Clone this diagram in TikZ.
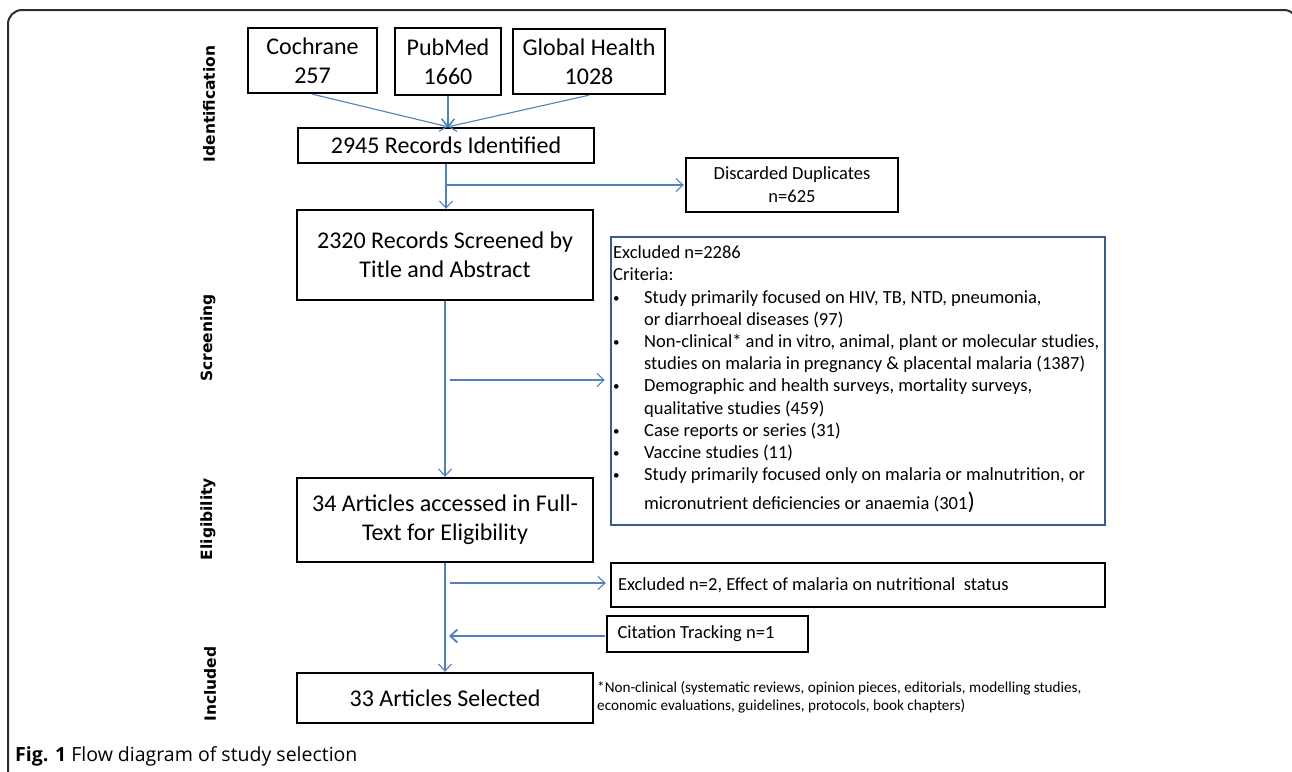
\documentclass[tikz,border=0pt]{standalone}
\usepackage{fontspec}
\setmainfont{Carlito}
\newfontfamily\phasefont{DejaVu Sans}
\newfontfamily\capfont{Open Sans}
\usetikzlibrary{arrows.meta}
\definecolor{arrowc}{RGB}{79,129,189}
\definecolor{exborder}{RGB}{56,93,138}
\definecolor{framec}{RGB}{45,45,45}
\newcommand{\smbul}{\raisebox{1pt}{\fontsize{13}{13}\selectfont\textbullet}}
\begin{document}
\begin{tikzpicture}[x=1pt,y=-1pt,
  box/.style={draw=black, line width=2.4pt, inner sep=0pt, align=center},
  conn/.style={draw=arrowc, line width=1.1pt},
  arr/.style={conn, -{Straight Barb[length=7pt,width=13pt]}},
  phase/.style={rotate=90, font=\phasefont\bfseries\fontsize{15.5}{18}\selectfont},
  big/.style={font=\fontsize{24}{29}\selectfont},
  mid/.style={font=\fontsize{18.5}{23}\selectfont}]
\useasboundingbox (0,0) rectangle (1292,771);
\draw[framec, line width=2pt, rounded corners=14pt] (8,800) -- (8,10) -- (1298,10) -- (1298,800);

% phase labels
\node[phase] (pid) at (209,104) {Identification};
\node[phase] (psc) at (208,338) {Screening};
\node[phase] (pel) at (208,519) {Eligibility};
\node[phase] (pin) at (210,684) {Included};

% boxes
\node[box,big,minimum width=129pt,minimum height=65pt] (coch) at (312.5,60.5) {Cochrane\\257};
\node[box,big,minimum width=106pt,minimum height=67pt] (pub) at (448,61.5) {PubMed\\1660};
\node[box,big,minimum width=152pt,minimum height=65pt] (gh) at (589,61.5) {Global Health\\1028};
\node[box,big,minimum width=296pt,minimum height=35pt] (rec) at (446,145.5) {2945 Records Identified};
\node[box,mid,minimum width=212pt,minimum height=54pt] (dup) at (792,185) {Discarded Duplicates\\n=625};
\node[box,big,minimum width=296pt,minimum height=90pt] (scr) at (445,255) {2320 Records Screened by\\Title and Abstract};
\node[box,draw=exborder,minimum width=494pt,minimum height=288pt] (exc) at (858,381) {};
\node[anchor=north west, inner sep=0pt, font=\fontsize{18.5}{22.2}\selectfont] (exctext) at (613,243) {%
\begin{tabular}{@{}p{31pt}@{}l@{}}
\multicolumn{2}{@{}l@{}}{Excluded n=2286}\\
\multicolumn{2}{@{}l@{}}{Criteria:}\\
\smbul & Study primarily focused on HIV, TB, NTD, pneumonia,\\
 & or diarrhoeal diseases (97)\\
\smbul & Non-clinical* and in vitro, animal, plant or molecular studies,\\
 & studies on malaria in pregnancy \& placental malaria (1387)\\
\smbul & Demographic and health surveys, mortality surveys,\\
 & qualitative studies (459)\\
\smbul & Case reports or series (31)\\
\smbul & Vaccine studies (11)\\
\smbul & Study primarily focused only on malaria or malnutrition, or\\[5pt]
 & micronutrient deficiencies or anaemia (301{\fontsize{24}{24}\selectfont)}
\end{tabular}};
\node[box,big,minimum width=296pt,minimum height=84pt] (elig) at (445,520) {34 Articles accessed in Full-\\Text for Eligibility};
\node[box,mid,minimum width=494pt,minimum height=44pt] (ex2) at (858,585) {\makebox[480pt][l]{Excluded n=2, Effect of malaria on nutritional\ \ status}};
\node[box,mid,minimum width=201pt,minimum height=36pt] (cit) at (707.5,634) {\makebox[180pt][l]{Citation Tracking n=1}};
\node[box,big,minimum width=296pt,minimum height=50pt] (incl) at (445,698) {33 Articles Selected};
\node[anchor=north west, inner sep=0pt, align=left, font=\fontsize{15.2}{18.5}\selectfont] (foot) at (597,681) {*Non-clinical (systematic reviews, opinion pieces, editorials, modelling studies,\\economic evaluations, guidelines, protocols, book chapters)};

% caption
\node[anchor=base west, inner sep=0pt, font=\capfont\fontsize{19.5}{22}\selectfont] (cap) at (15,761) {\textbf{Fig. 1} Flow diagram of study selection};

% connectors
\draw[arr] (coch.south) -- (pub.south |- rec.north);
\draw[arr] (pub.south) -- (pub.south |- rec.north);
\draw[arr] (gh.south) -- (pub.south |- rec.north);
\draw[arr] (rec.south) -- (rec.south |- scr.north);
\coordinate (b1) at (rec.south |- dup.west);
\draw[arr] (b1) -- ([xshift=-1pt]dup.west);
\coordinate (b2) at (450,380);
\draw[arr] (b2) -- ([xshift=-5pt]b2 -| exc.west);
\draw[arr] (scr.south) -- (elig.north);
\coordinate (b3) at (450,583);
\draw[arr] (b3) -- ([xshift=-4pt]b3 -| ex2.west);
\draw[arr] (elig.south) -- (incl.north);
\coordinate (c1) at ([xshift=-1pt,yshift=-2pt]cit.west);
\draw[arr, line width=1.8pt] (c1) -- ([xshift=4pt]c1 -| elig.south);
\end{tikzpicture}
\end{document}
